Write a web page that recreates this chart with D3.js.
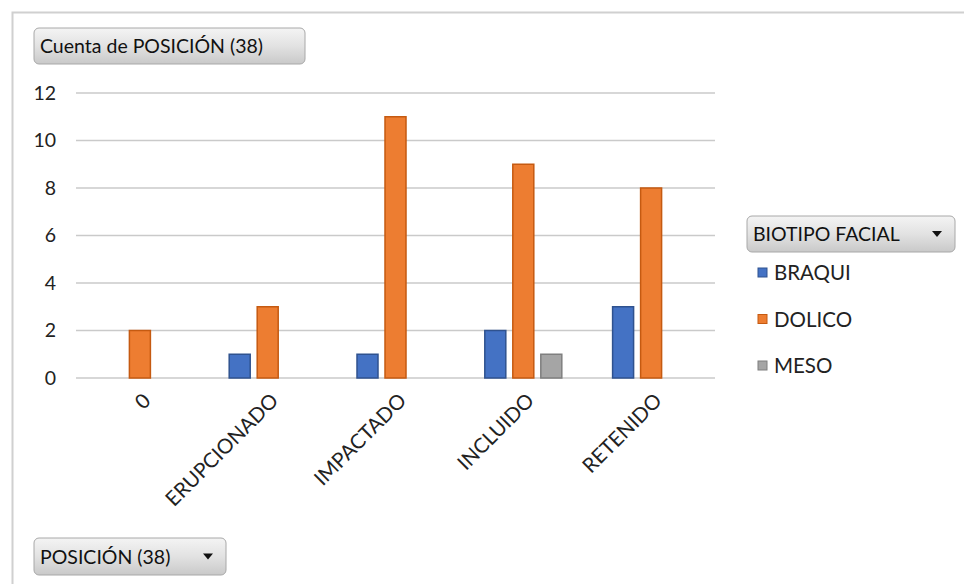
<!DOCTYPE html>
<html><head><meta charset="utf-8">
<script src="https://cdn.jsdelivr.net/npm/d3@7"></script>
<style>body{margin:0;background:#fff;}svg{display:block;font-family:Lato,"Open Sans",sans-serif;}</style>
</head><body>
<svg id="c" width="964" height="584"></svg>
<script>
const categories = ["0","ERUPCIONADO","IMPACTADO","INCLUIDO","RETENIDO"];
const seriesNames = ["BRAQUI","DOLICO","MESO"];
const braqui = [0,1,1,2,3];
const dolico = [2,3,11,9,8];
const meso = [0,0,0,1,0];
const yTicks = [0,2,4,6,8,10,12];
const valueTitle = "Cuenta de POSICIÓN (38)";
const legendTitle = "BIOTIPO FACIAL";
const axisTitle = "POSICIÓN (38)";

const fills = ["#4472C4","#ED7D31","#A5A5A5"];
const strokes = ["#2F528F","#C55A11","#7F7F7F"];
const seriesVals = [braqui, dolico, meso];
const FS = 19.5;

const svg = d3.select("#c");
const defs = svg.append("defs");
const g = defs.append("linearGradient").attr("id","btn").attr("x1",0).attr("y1",0).attr("x2",0).attr("y2",1);
g.append("stop").attr("offset","0").attr("stop-color","#F4F4F4");
g.append("stop").attr("offset","0.5").attr("stop-color","#E2E2E2");
g.append("stop").attr("offset","1").attr("stop-color","#C9C9C9");

// outer frame
svg.append("path").attr("d","M12.5,584 V12.5 H964").attr("fill","none").attr("stroke","#D0D0D0").attr("stroke-width",2);

const x = d3.scaleBand().domain(categories).range([76,715]);
const y = d3.scaleLinear().domain([0,12]).range([378,93]);
const xs = d3.scaleBand().domain(seriesNames).range([-42,42]);

// gridlines
svg.append("g").selectAll("line").data(yTicks).join("line")
  .attr("x1",76).attr("x2",715).attr("y1",d=>y(d)).attr("y2",d=>y(d))
  .attr("stroke","#CACACA").attr("stroke-width",1.5);

// y axis labels
const yAxis = d3.axisLeft(y).tickValues(yTicks).tickSize(0).tickPadding(0);
const ya = svg.append("g").attr("transform","translate(56,0)").call(yAxis);
ya.select(".domain").remove();
ya.selectAll("text").attr("font-size",FS).attr("fill","#222").attr("font-family","Lato,'Open Sans',sans-serif");

// bars
const groups = svg.append("g").selectAll("g").data(categories).join("g")
  .attr("transform",d=>`translate(${x(d)+x.bandwidth()/2},0)`);
groups.selectAll("rect").data((c,i)=>seriesNames.map((s,k)=>({s,k,v:seriesVals[k][i]})).filter(d=>d.v>0)).join("rect")
  .attr("x",d=>xs(d.s)+3.5).attr("width",xs.bandwidth()-7)
  .attr("y",d=>y(d.v)).attr("height",d=>y(0)-y(d.v))
  .attr("fill",d=>fills[d.k]).attr("stroke",d=>strokes[d.k]).attr("stroke-width",1.5);

// x labels
const xAxis = d3.axisBottom(x).tickSize(0).tickPadding(0);
const xa = svg.append("g").attr("transform","translate(0,392)").call(xAxis);
xa.select(".domain").remove();
xa.selectAll("text").attr("font-size",FS+1).attr("fill","#222").attr("font-family","Lato,'Open Sans',sans-serif")
  .attr("text-anchor","end").attr("dy",0).attr("transform","translate(12,10) rotate(-45)");

// buttons
function button(x0,y0,w,h,label,arrow){
  const b = svg.append("g");
  b.append("rect").attr("x",x0).attr("y",y0).attr("width",w).attr("height",h).attr("rx",5)
    .attr("fill","url(#btn)").attr("stroke","#A8A8A8").attr("stroke-width",1);
  b.append("text").attr("x",x0+6).attr("y",y0+h/2+7).attr("font-size",FS).attr("fill","#111").text(label);
  if(arrow){
    const ax=x0+w-18, ay=y0+h/2;
    b.append("path").attr("d",`M${ax-5},${ay-3} L${ax+5},${ay-3} L${ax},${ay+3} Z`).attr("fill","#111");
  }
}
button(34,28,271,36,valueTitle,false);
button(747,216,208,36,legendTitle,true);
button(34,538,192,37,axisTitle,true);

// legend items
const legend = svg.append("g").selectAll("g").data(seriesNames).join("g")
  .attr("transform",(d,i)=>`translate(758,${273+i*46.5})`);
legend.append("rect").attr("x",0).attr("y",-5).attr("width",9).attr("height",9)
  .attr("fill",(d,i)=>fills[i]).attr("stroke",(d,i)=>strokes[i]).attr("stroke-width",1);
legend.append("text").attr("x",16).attr("y",7).attr("font-size",FS+1).attr("fill","#222").text(d=>d);
</script>
</body></html>
